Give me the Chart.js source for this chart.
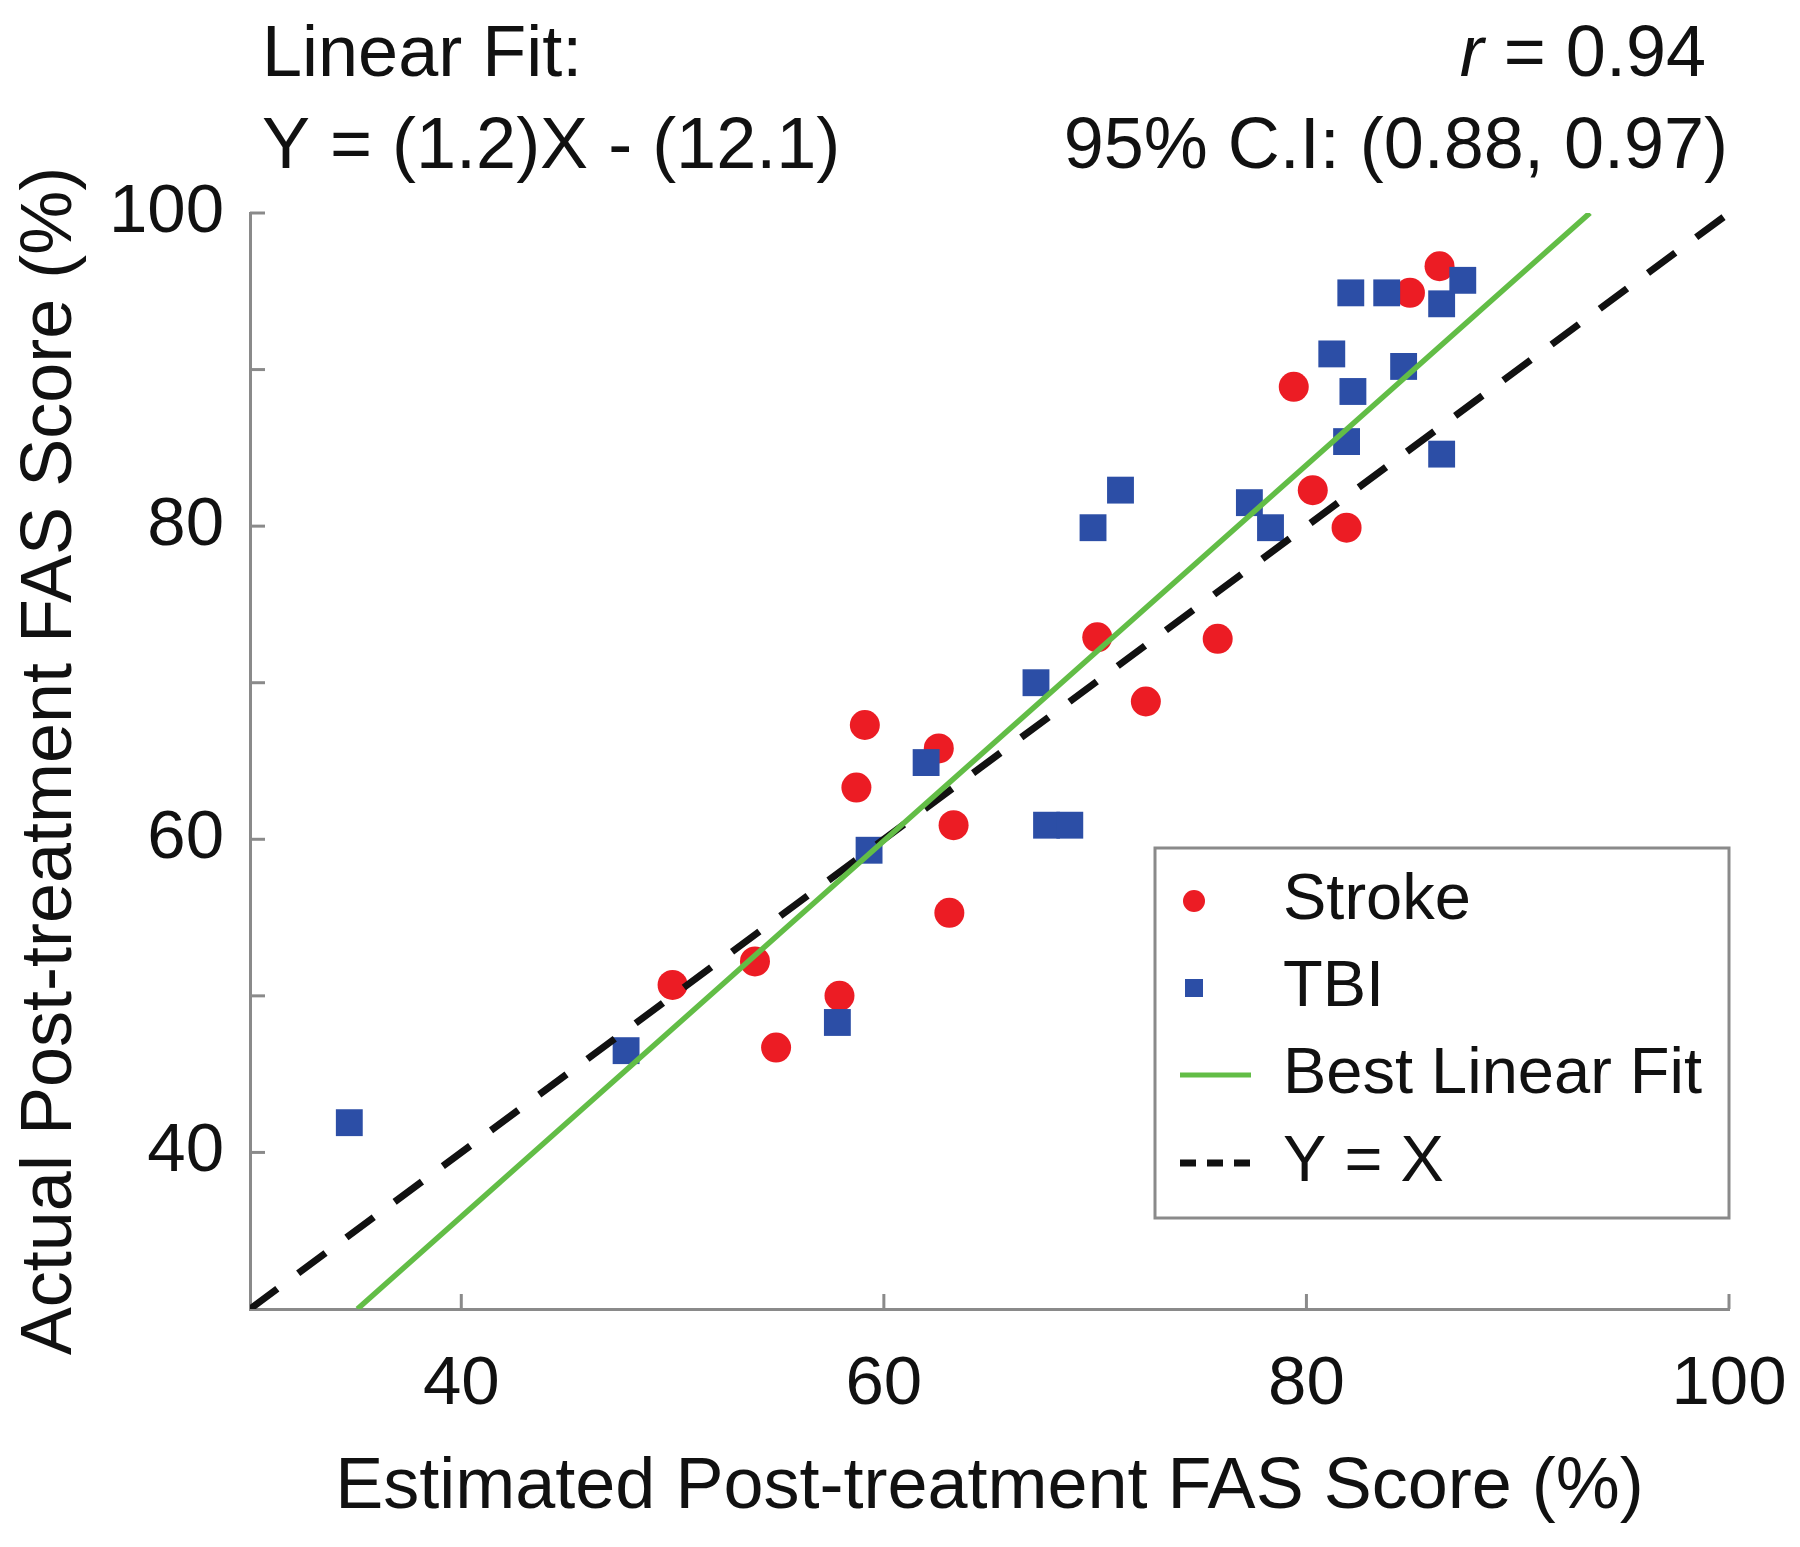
<!DOCTYPE html>
<html>
<head>
<meta charset="utf-8">
<script src="https://cdn.jsdelivr.net/npm/chart.js@4.4.1/dist/chart.umd.min.js"></script>
<style>
  html, body { margin: 0; padding: 0; background: #ffffff; }
  #wrap { width: 1800px; height: 1547px; position: relative; }
</style>
</head>
<body>
<div id="wrap"><canvas id="fasChart" width="1800" height="1547"></canvas></div>
<script>
// --- data ---
const strokeX = [50.0, 53.9, 54.9, 57.9, 58.7, 59.1, 62.6, 63.3, 63.1, 70.1, 72.4, 75.8, 79.4, 80.3, 81.9, 84.9, 86.3];
const strokeY = [50.7, 52.2, 46.7, 50.0, 63.3, 67.3, 65.8, 60.9, 55.3, 72.9, 68.8, 72.8, 88.9, 82.3, 79.9, 94.9, 96.6];

const tbiX = [34.7, 47.8, 57.8, 59.3, 62.0, 67.2, 67.7, 68.8, 69.9, 71.2, 77.3, 78.3, 81.2, 81.9, 82.2, 82.1, 83.8, 84.6, 86.4, 87.4, 86.4];
const tbiY = [41.9, 46.5, 48.3, 59.3, 64.9, 70.0, 60.9, 60.9, 79.9, 82.3, 81.5, 79.9, 91.0, 85.4, 88.6, 94.9, 94.9, 90.2, 94.2, 95.7, 84.6];

const fitSlope = 1.2;
const fitIntercept = -12.1;
const rValue = '0.94';
const ciLow = '0.88';
const ciHigh = '0.97';

const axisMin = 30;
const axisMax = 100;
const xTickValues = [40, 60, 80, 100];
const yTickValues = [40, 50, 60, 70, 80, 90, 100];
const yLabelStep = 20;

const legendLabels = ['Stroke', 'TBI', 'Best Linear Fit', 'Y = X'];
const xTitle = 'Estimated Post-treatment FAS Score (%)';
const yTitle = 'Actual Post-treatment FAS Score (%)';

const FONT = '"Liberation Sans", Arial, Helvetica, sans-serif';
const RED = '#EC1C24';
const BLUE = '#2C4EA6';
const GREEN = '#62BD46';
const AXIS_GREY = '#8a8a8a';

const toPoints = (xs, ys) => xs.map((x, i) => ({ x: x, y: ys[i] }));

// fit line spans the visible y range: x = (y - b) / m
const fitPoints = [axisMin, axisMax].map(y => ({ x: (y - fitIntercept) / fitSlope, y: y }));
const identityPoints = [axisMin, axisMax].map(v => ({ x: v, y: v }));

// keep the tick labels from eating into the plot width
function noEdgePadding(scale) {
    scale.paddingLeft = 0;
    scale.paddingRight = 0;
    scale.paddingTop = 0;
    scale.paddingBottom = 0;
}

// inward tick marks, matlab style
const innerTicks = {
    id: 'innerTicks',
    afterDraw(chart) {
        const { ctx, chartArea, scales } = chart;
        const len = 15;
        ctx.save();
        ctx.strokeStyle = AXIS_GREY;
        ctx.lineWidth = 3;
        scales.y.ticks.forEach(t => {
            const py = scales.y.getPixelForValue(t.value);
            ctx.beginPath();
            ctx.moveTo(chartArea.left, py);
            ctx.lineTo(chartArea.left + len, py);
            ctx.stroke();
        });
        scales.x.ticks.forEach(t => {
            const px = scales.x.getPixelForValue(t.value);
            ctx.beginPath();
            ctx.moveTo(px, chartArea.bottom);
            ctx.lineTo(px, chartArea.bottom - len);
            ctx.stroke();
        });
        ctx.restore();
    }
};

// header text: fit equation on the left, r and CI on the right
const headerText = {
    id: 'headerText',
    afterDraw(chart) {
        const { ctx } = chart;
        const sign = fitIntercept < 0 ? '-' : '+';
        const eq = 'Y = (' + fitSlope + ')X ' + sign + ' (' + Math.abs(fitIntercept) + ')';
        ctx.save();
        ctx.fillStyle = '#111111';
        ctx.textBaseline = 'alphabetic';
        ctx.font = '72px ' + FONT;
        ctx.textAlign = 'left';
        ctx.fillText('Linear Fit:', 262, 76);
        ctx.fillText(eq, 262, 168);

        ctx.textAlign = 'right';
        ctx.fillText('95% C.I: (' + ciLow + ', ' + ciHigh + ')', 1728, 168);
        const rest = ' = ' + rValue;
        ctx.fillText(rest, 1706, 76);
        const w = ctx.measureText(rest).width;
        ctx.font = 'italic 72px ' + FONT;
        ctx.fillText('r', 1706 - w, 76);
        ctx.restore();
    }
};

// legend box inside the plot, lower right
const boxLegend = {
    id: 'boxLegend',
    afterDraw(chart) {
        const { ctx, chartArea } = chart;
        const ds = chart.data.datasets;
        const w = 574, h = 370;
        const right = chartArea.right;
        const bottom = chartArea.bottom - 91;
        const left = right - w, top = bottom - h;

        ctx.save();
        ctx.fillStyle = '#ffffff';
        ctx.fillRect(left, top, w, h);
        ctx.strokeStyle = AXIS_GREY;
        ctx.lineWidth = 3;
        ctx.strokeRect(left, top, w, h);

        const rows = [53, 140, 227, 315];
        const symX = left + 39;
        ctx.font = '65px ' + FONT;
        ctx.textAlign = 'left';
        ctx.textBaseline = 'middle';

        legendLabels.forEach((label, i) => {
            const y = top + rows[i];
            const d = ds[i];
            if (d.pointStyle === 'circle') {
                ctx.fillStyle = d.backgroundColor;
                ctx.beginPath();
                ctx.arc(symX, y, 11, 0, Math.PI * 2);
                ctx.fill();
            } else if (d.pointStyle === 'rect') {
                ctx.fillStyle = d.backgroundColor;
                ctx.fillRect(symX - 9, y - 9, 18, 18);
            } else {
                ctx.strokeStyle = d.borderColor;
                ctx.lineWidth = d.borderDash ? 7 : 5;
                ctx.setLineDash(d.borderDash ? [16, 11] : []);
                ctx.beginPath();
                ctx.moveTo(left + 25, y);
                ctx.lineTo(left + 96, y);
                ctx.stroke();
                ctx.setLineDash([]);
            }
            ctx.fillStyle = '#111111';
            ctx.fillText(label, left + 128, y);
        });
        ctx.restore();
    }
};

const ctx = document.getElementById('fasChart').getContext('2d');

new Chart(ctx, {
    type: 'scatter',
    data: {
        datasets: [
            {
                label: legendLabels[0],
                data: toPoints(strokeX, strokeY),
                pointStyle: 'circle',
                pointRadius: 15,
                backgroundColor: RED,
                borderWidth: 0,
                order: 3
            },
            {
                label: legendLabels[1],
                data: toPoints(tbiX, tbiY),
                pointStyle: 'rect',
                pointRadius: 19,
                backgroundColor: BLUE,
                borderWidth: 0,
                order: 2
            },
            {
                label: legendLabels[2],
                data: fitPoints,
                showLine: true,
                pointRadius: 0,
                borderColor: GREEN,
                borderWidth: 5.5,
                order: 0
            },
            {
                label: legendLabels[3],
                data: identityPoints,
                showLine: true,
                pointRadius: 0,
                borderColor: '#111111',
                borderWidth: 7,
                borderDash: [34, 26],
                order: 1
            }
        ]
    },
    options: {
        responsive: false,
        animation: false,
        events: [],
        devicePixelRatio: 1,
        layout: { padding: { top: 213, right: 71, left: 0, bottom: 0 } },
        plugins: {
            legend: { display: false },
            tooltip: { enabled: false }
        },
        scales: {
            x: {
                type: 'linear',
                min: axisMin,
                max: axisMax,
                afterBuildTicks: scale => { scale.ticks = xTickValues.map(v => ({ value: v })); },
                afterFit: scale => { scale.height = 238; noEdgePadding(scale); },
                grid: { drawOnChartArea: false, drawTicks: false },
                border: { display: true, color: AXIS_GREY, width: 3 },
                ticks: {
                    color: '#111111',
                    padding: 35,
                    font: { family: FONT, size: 69 }
                },
                title: {
                    display: true,
                    text: xTitle,
                    color: '#111111',
                    padding: { top: 0, bottom: 16 },
                    font: { family: FONT, size: 72 }
                }
            },
            y: {
                type: 'linear',
                min: axisMin,
                max: axisMax,
                afterBuildTicks: scale => { scale.ticks = yTickValues.map(v => ({ value: v })); },
                afterFit: scale => { scale.width = 250; noEdgePadding(scale); },
                grid: { drawOnChartArea: false, drawTicks: false },
                border: { display: true, color: AXIS_GREY, width: 3 },
                ticks: {
                    color: '#111111',
                    padding: 26,
                    font: { family: FONT, size: 69 },
                    callback: v => (v % yLabelStep === 0 ? String(v) : '')
                },
                title: {
                    display: true,
                    text: yTitle,
                    color: '#111111',
                    padding: { top: 8, bottom: 0 },
                    font: { family: FONT, size: 72 }
                }
            }
        }
    },
    plugins: [innerTicks, headerText, boxLegend]
});
</script>
</body>
</html>
